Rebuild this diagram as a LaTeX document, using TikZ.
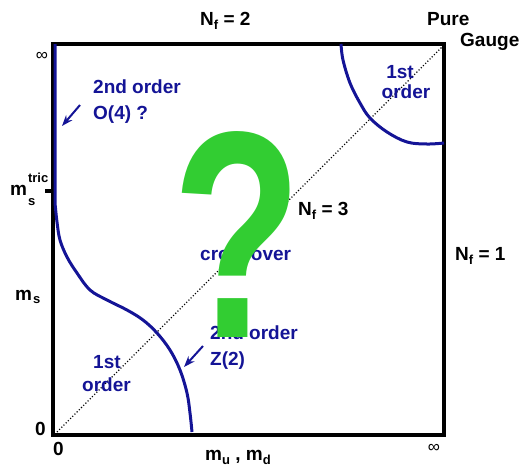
\documentclass[tikz,border=0pt]{standalone}
\usepackage{fontspec}
\setmainfont{Liberation Sans}
\usetikzlibrary{arrows.meta}
\definecolor{navy}{RGB}{20,20,150}
\definecolor{qgreen}{RGB}{50,205,50}
\newcommand{\sfx}[1]{{\fontsize{13}{13}\selectfont #1}}
\begin{document}
\begin{tikzpicture}[x=1pt,y=-1pt,
  lbl/.style={font=\fontsize{19}{21}\selectfont\bfseries, inner sep=0pt},
  blbl/.style={font=\fontsize{19}{21}\selectfont\bfseries, inner sep=0pt, text=navy},
  bline/.style={draw=navy, line width=3pt},
  pointer/.style={draw=navy, line width=2pt, -{Stealth[length=11pt,width=8pt]}},
  frame/.style={draw=black, line width=3.5pt},
]
\useasboundingbox (0,0) rectangle (521,464);

% frame
\coordinate (BL) at (53,435);
\coordinate (TR) at (444,44);
\draw[frame] (BL) rectangle (TR);
\coordinate (tickL) at (45,191);
\coordinate (tickR) at (53,191);
\draw[frame] (tickL) -- (tickR);

% diagonal
\coordinate (d0) at (57,432);
\coordinate (d1) at (442,47);
\draw[dotted, line width=1.1pt] (d0) -- (d1);

% blue transition lines
\draw[bline] (55,44) -- (55,203)
  plot[smooth, tension=0.6] coordinates {(55,203) (57,222) (60,240) (67,257) (77,273) (90,290) (107,300) (127,310) (143,320) (157,333) (170,350) (180,370) (187,393) (190,413) (192,432)};
\draw[bline] plot[smooth, tension=0.6] coordinates {(341,44) (343,60) (350,83) (360,103) (370,118) (387,132) (407,142) (427,144) (444,143)};

% arrows
\coordinate (a1s) at (80,105);
\coordinate (a1e) at (62,126);
\draw[pointer] (a1s) -- (a1e);
\coordinate (a2s) at (203,346);
\coordinate (a2e) at (184,367);
\draw[pointer] (a2s) -- (a2e);

% black labels
\node[lbl, anchor=base west] (nf2) at (200,25) {N\raisebox{-4pt}{\sfx{f}} = 2};
\node[lbl, anchor=base west] (pure) at (427,25) {Pure};
\node[lbl, anchor=base west] (gauge) at (460,46) {Gauge};
\node[lbl, anchor=base west] (nf3) at (298,215) {N\raisebox{-4pt}{\sfx{f}} = 3};
\node[lbl, anchor=base west] (nf1) at (455,260) {N\raisebox{-4pt}{\sfx{f}} = 1};
\node[lbl, font=\fontsize{17}{17}\selectfont] (inf1) at (42,56) {∞};
\node[lbl, font=\fontsize{17}{17}\selectfont] (inf2) at (434,448) {∞};
\node[lbl, anchor=base west] (mstric) at (10,195) {m\kern1pt\rlap{\raisebox{13pt}{\sfx{tric}}}\raisebox{-10pt}{\sfx{s}}};
\node[lbl, anchor=base west] (ms) at (15,300) {m\kern1pt\raisebox{-3pt}{\sfx{s}}};
\node[lbl, anchor=base west] (zero1) at (35,435) {0};
\node[lbl, anchor=base west] (zero2) at (53,455) {0};
\node[lbl, anchor=base west] (mumd) at (205,460) {m\raisebox{-4pt}{\sfx{u}} , m\raisebox{-4pt}{\sfx{d}}};

% blue labels
\node[blbl, anchor=base west] (so1) at (93,93) {2nd order};
\node[blbl, anchor=base west] (o4) at (93,119) {O(4) ?};
\node[blbl, anchor=base] (fo1a) at (400,78) {1st};
\node[blbl, anchor=base] (fo1b) at (406,98) {order};
\node[blbl, anchor=base west] (cross) at (200,260) {crossover};
\node[blbl, anchor=base west] (so2) at (210,339) {2nd order};
\node[blbl, anchor=base west] (z2) at (210,365) {Z(2)};
\node[blbl, anchor=base west] (fo2a) at (93,368) {1st};
\node[blbl, anchor=base west] (fo2b) at (82,391) {order};

% big question mark
\node[text=qgreen, font=\fontsize{295}{295}\selectfont\bfseries, anchor=base, xscale=0.72, inner sep=0pt] (q) at (237,337) {?};
\end{tikzpicture}
\end{document}
